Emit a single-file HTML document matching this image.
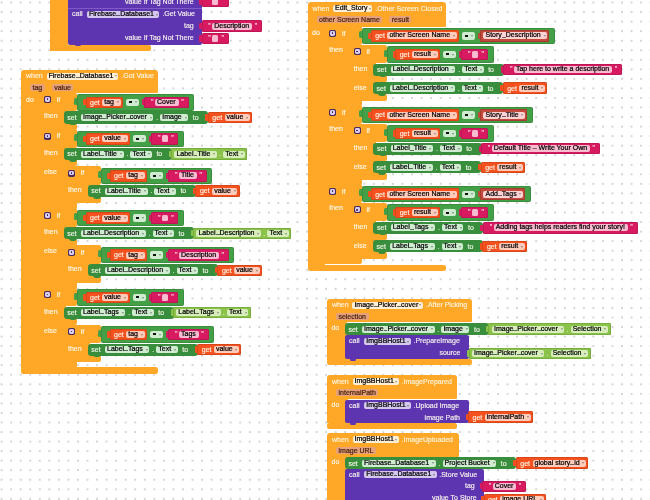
<!DOCTYPE html><html><head><meta charset="utf-8"><style>
*{box-sizing:border-box}
html,body{margin:0;padding:0;width:650px;height:500px;overflow:hidden;background:#fff}
body{position:relative;font-family:"Liberation Sans",sans-serif;font-size:7px}
#wrap{position:absolute;left:0;top:0;width:650px;height:500px;will-change:transform;overflow:hidden}
.dots{position:absolute;left:0;top:0}
.r{position:absolute}
.t{position:absolute;white-space:nowrap;line-height:7px;height:7px;-webkit-text-stroke:0.15px currentColor}
.f{position:absolute;white-space:nowrap;border-radius:2px;padding-left:2px;-webkit-text-stroke:0.22px currentColor}
.f i{position:absolute;right:1.8px;top:50%;margin-top:-0.8px;width:0;height:0;border-left:1.5px solid transparent;border-right:1.5px solid transparent;border-top:2px solid rgba(0,0,0,.4)}
.eq{position:absolute;left:3.2px;top:2.6px;width:2.2px;height:2px;background:#111}
.us{display:inline-block;width:3.9px;height:0.7px;background:currentColor;opacity:.55;vertical-align:0px}
.gear{position:absolute;width:7px;height:7px;border-radius:1.8px;background:#4A2A58}
.gear span{position:absolute;left:1.1px;top:1.1px;width:4.8px;height:4.8px;border-radius:1.4px;background:#D9CCF0}
.gear span::after{content:"";position:absolute;left:1.6px;top:1.4px;width:1.6px;height:1.8px;border-radius:50%;background:#3a2048}
</style></head><body><div id="wrap"><svg class="dots" width="650" height="500"><defs><pattern id="p" x="1.6" y="2.5" width="9.545" height="9.545" patternUnits="userSpaceOnUse"><circle cx="0" cy="0" r="0.95" fill="#c4c4c4"/><circle cx="9.545" cy="0" r="0.95" fill="#c4c4c4"/><circle cx="0" cy="9.545" r="0.95" fill="#c4c4c4"/><circle cx="9.545" cy="9.545" r="0.95" fill="#c4c4c4"/></pattern></defs><rect x="0" y="0" width="650" height="500" fill="url(#p)"/></svg><div class="r" style="left:50.40px;top:-10.00px;width:17.60px;height:60.80px;background:#FFA726;"></div>
<div class="r" style="left:50.40px;top:44.60px;width:100.60px;height:6.20px;background:#FFA726;border-radius:2px;"></div>
<div class="r" style="left:67.80px;top:-5.00px;width:134.00px;height:49.60px;background:#5E35B1;border-radius:2px;"></div>
<div class="r" style="left:67.80px;top:8.00px;width:134.00px;height:0.90px;background:#7E5BC6;"></div>
<div class="r" style="left:75.00px;top:43.00px;width:6.00px;height:3.00px;background:#5E35B1;border-radius:1.5px;"></div>
<div class="t" style="left:125.00px;top:-2.00px;color:rgba(255,252,240,0.93);">value If Tag Not There</div>
<div class="t" style="left:72.00px;top:10.20px;color:rgba(255,252,240,0.93);">call</div>
<div class="f" style="left:87.00px;top:10.50px;width:72.39px;height:7.6px;line-height:6.40px;background:#D5C8EE;color:#000;">Firebase<b class="us"></b>Database1<i></i></div>
<div class="t" style="left:162.39px;top:10.20px;color:rgba(255,252,240,0.93);">.Get Value</div>
<div class="t" style="left:184.00px;top:22.40px;color:rgba(255,252,240,0.93);">tag</div>
<div class="t" style="left:125.00px;top:34.40px;color:rgba(255,252,240,0.93);">value If Tag Not There</div>
<div class="r" style="left:199.00px;top:-1.60px;width:3.50px;height:6.40px;background:#D81B60;border-radius:1px;"></div>
<div class="r" style="left:201.50px;top:-4.15px;width:27.00px;height:11.50px;background:#D81B60;border-radius:1.5px;box-shadow:inset 0 0 0 0.7px rgba(0,0,0,0.16);"></div>
<div class="t" style="left:208.20px;top:-2.80px;color:rgba(255,235,240,0.9);">"</div>
<div class="r" style="left:212.25px;top:-1.70px;width:6.00px;height:6.60px;background:#F8BBD0;border-radius:1.5px;"></div>
<div class="t" style="left:221.50px;top:-2.80px;color:rgba(255,235,240,0.9);">"</div>
<div class="r" style="left:199.00px;top:23.00px;width:3.50px;height:6.40px;background:#D81B60;border-radius:1px;"></div>
<div class="r" style="left:201.50px;top:20.45px;width:60.62px;height:11.50px;background:#D81B60;border-radius:1.5px;box-shadow:inset 0 0 0 0.7px rgba(0,0,0,0.16);"></div>
<div class="t" style="left:208.20px;top:21.80px;color:rgba(255,235,240,0.9);">"</div>
<div class="f" style="left:212.20px;top:22.70px;width:40.02px;height:7px;line-height:5.80px;background:#F8BBD0;color:#000;">Description</div>
<div class="t" style="left:254.72px;top:21.80px;color:rgba(255,235,240,0.9);">"</div>
<div class="r" style="left:199.00px;top:35.40px;width:3.50px;height:6.40px;background:#D81B60;border-radius:1px;"></div>
<div class="r" style="left:201.50px;top:32.85px;width:27.00px;height:11.50px;background:#D81B60;border-radius:1.5px;box-shadow:inset 0 0 0 0.7px rgba(0,0,0,0.16);"></div>
<div class="t" style="left:208.20px;top:34.20px;color:rgba(255,235,240,0.9);">"</div>
<div class="r" style="left:212.25px;top:35.30px;width:6.00px;height:6.60px;background:#F8BBD0;border-radius:1.5px;"></div>
<div class="t" style="left:221.50px;top:34.20px;color:rgba(255,235,240,0.9);">"</div>
<div class="r" style="left:21.00px;top:69.60px;width:136.80px;height:23.90px;background:#FFA726;border-radius:3px 3px 1px 0;"></div>
<div class="t" style="left:26.00px;top:72.20px;color:rgba(255,248,228,0.95);">when</div>
<div class="f" style="left:46.50px;top:72.60px;width:71.99px;height:7px;line-height:5.80px;background:rgba(255,255,255,0.82);color:#000;">Firebase<b class="us"></b>Database1<i></i></div>
<div class="t" style="left:121.29px;top:72.20px;color:rgba(255,248,228,0.95);">.Got Value</div>
<div class="f" style="left:30.00px;top:83.60px;width:14.73px;height:7.2px;background:#E6A07A;color:#4a2410;text-align:center;padding:0;line-height:7.2px">tag</div>
<div class="f" style="left:51.73px;top:83.60px;width:21.74px;height:7.2px;background:#E6A07A;color:#4a2410;text-align:center;padding:0;line-height:7.2px">value</div>
<div class="r" style="left:21.00px;top:93.00px;width:18.50px;height:275.00px;background:#FFA726;"></div>
<div class="r" style="left:21.00px;top:367.00px;width:136.80px;height:6.50px;background:#FFA726;border-radius:2.5px;"></div>
<div class="t" style="left:26.00px;top:95.90px;color:rgba(255,252,240,0.93);">do</div>
<div class="r" style="left:38.50px;top:92.50px;width:38.50px;height:18.50px;background:#FFA726;border-radius:0 2px 2px 0;"></div>
<div class="gear" style="left:44.00px;top:96.00px;"><span></span></div>
<div class="t" style="left:56.80px;top:95.90px;color:rgba(255,252,240,0.93);">if</div>
<div class="r" style="left:38.50px;top:110.00px;width:27.50px;height:13.70px;background:#FFA726;"></div>
<div class="t" style="left:44.00px;top:112.40px;color:rgba(255,252,240,0.93);">then</div>
<div class="r" style="left:38.50px;top:122.70px;width:38.50px;height:7.30px;background:#FFA726;border-radius:0 2px 2px 0;"></div>
<div class="r" style="left:74.00px;top:97.50px;width:4.00px;height:7.00px;background:#43A047;border-radius:1.5px;"></div>
<div class="r" style="left:77.00px;top:94.00px;width:116.99px;height:16.50px;background:#43A047;border-radius:2px;box-shadow:inset 0 0 0 0.7px rgba(0,0,0,0.16);"></div>
<div class="r" style="left:83.00px;top:99.05px;width:3.50px;height:6.40px;background:#F4511E;border-radius:1px;"></div>
<div class="r" style="left:85.50px;top:96.50px;width:37.13px;height:11.50px;background:#F4511E;border-radius:1.5px;box-shadow:inset 0 0 0 0.7px rgba(0,0,0,0.16);"></div>
<div class="t" style="left:90.00px;top:98.65px;color:rgba(255,252,240,0.93);">get</div>
<div class="f" style="left:102.20px;top:98.75px;width:18.33px;height:7px;line-height:5.80px;background:#FFCCBC;color:#000;">tag<i></i></div>
<div class="f" style="left:126.13px;top:98.65px;width:12.69px;height:7.2px;line-height:6.00px;background:#CFEBD0;color:#000;"><span class="eq"></span><i></i></div>
<div class="r" style="left:141.82px;top:99.05px;width:3.50px;height:6.40px;background:#D81B60;border-radius:1px;"></div>
<div class="r" style="left:144.32px;top:96.50px;width:44.27px;height:11.50px;background:#D81B60;border-radius:1.5px;box-shadow:inset 0 0 0 0.7px rgba(0,0,0,0.16);"></div>
<div class="t" style="left:151.02px;top:97.85px;color:rgba(255,235,240,0.9);">"</div>
<div class="f" style="left:155.02px;top:98.75px;width:23.67px;height:7px;line-height:5.80px;background:#F8BBD0;color:#000;">Cover</div>
<div class="t" style="left:181.19px;top:97.85px;color:rgba(255,235,240,0.9);">"</div>
<div class="r" style="left:63.50px;top:111.40px;width:144.87px;height:12.20px;background:#388E3C;border-radius:3px;"></div>
<div class="r" style="left:69.00px;top:122.10px;width:8.00px;height:3.00px;background:#388E3C;border-radius:0 0 3px 3px;"></div>
<div class="t" style="left:67.30px;top:113.90px;color:rgba(255,252,240,0.93);">set</div>
<div class="f" style="left:81.00px;top:114.00px;width:72.41px;height:7px;line-height:5.80px;background:#CFEBD0;color:#000;">Image<b class="us"></b>Picker<b class="us"></b>cover<i></i></div>
<div class="t" style="left:156.21px;top:113.90px;color:rgba(255,252,240,0.93);">.</div>
<div class="f" style="left:160.31px;top:114.00px;width:28.06px;height:7px;line-height:5.80px;background:#CFEBD0;color:#000;">Image<i></i></div>
<div class="t" style="left:192.87px;top:113.90px;color:rgba(255,252,240,0.93);">to</div>
<div class="r" style="left:205.37px;top:114.30px;width:3.50px;height:6.40px;background:#F4511E;border-radius:1px;"></div>
<div class="r" style="left:207.87px;top:111.75px;width:44.14px;height:11.50px;background:#F4511E;border-radius:1.5px;box-shadow:inset 0 0 0 0.7px rgba(0,0,0,0.16);"></div>
<div class="t" style="left:212.37px;top:113.90px;color:rgba(255,252,240,0.93);">get</div>
<div class="f" style="left:224.57px;top:114.00px;width:25.34px;height:7px;line-height:5.80px;background:#FFCCBC;color:#000;">value<i></i></div>
<div class="r" style="left:38.50px;top:129.00px;width:38.50px;height:18.50px;background:#FFA726;border-radius:0 2px 2px 0;"></div>
<div class="gear" style="left:44.00px;top:132.50px;"><span></span></div>
<div class="t" style="left:56.80px;top:132.40px;color:rgba(255,252,240,0.93);">if</div>
<div class="r" style="left:38.50px;top:146.50px;width:27.50px;height:13.70px;background:#FFA726;"></div>
<div class="t" style="left:44.00px;top:148.90px;color:rgba(255,252,240,0.93);">then</div>
<div class="r" style="left:38.50px;top:159.20px;width:38.50px;height:7.30px;background:#FFA726;border-radius:0 2px 2px 0;"></div>
<div class="r" style="left:38.50px;top:165.50px;width:27.50px;height:37.50px;background:#FFA726;"></div>
<div class="t" style="left:44.00px;top:167.90px;color:rgba(255,252,240,0.93);">else</div>
<div class="r" style="left:38.50px;top:202.00px;width:38.50px;height:7.30px;background:#FFA726;border-radius:0 2px 2px 0;"></div>
<div class="r" style="left:74.00px;top:134.00px;width:4.00px;height:7.00px;background:#43A047;border-radius:1.5px;"></div>
<div class="r" style="left:77.00px;top:130.50px;width:106.72px;height:16.50px;background:#43A047;border-radius:2px;box-shadow:inset 0 0 0 0.7px rgba(0,0,0,0.16);"></div>
<div class="r" style="left:83.00px;top:135.55px;width:3.50px;height:6.40px;background:#F4511E;border-radius:1px;"></div>
<div class="r" style="left:85.50px;top:133.00px;width:44.14px;height:11.50px;background:#F4511E;border-radius:1.5px;box-shadow:inset 0 0 0 0.7px rgba(0,0,0,0.16);"></div>
<div class="t" style="left:90.00px;top:135.15px;color:rgba(255,252,240,0.93);">get</div>
<div class="f" style="left:102.20px;top:135.25px;width:25.34px;height:7px;line-height:5.80px;background:#FFCCBC;color:#000;">value<i></i></div>
<div class="f" style="left:133.14px;top:135.15px;width:12.69px;height:7.2px;line-height:6.00px;background:#CFEBD0;color:#000;"><span class="eq"></span><i></i></div>
<div class="r" style="left:148.82px;top:135.55px;width:3.50px;height:6.40px;background:#D81B60;border-radius:1px;"></div>
<div class="r" style="left:151.32px;top:133.00px;width:27.00px;height:11.50px;background:#D81B60;border-radius:1.5px;box-shadow:inset 0 0 0 0.7px rgba(0,0,0,0.16);"></div>
<div class="t" style="left:158.02px;top:134.35px;color:rgba(255,235,240,0.9);">"</div>
<div class="r" style="left:162.07px;top:135.45px;width:6.00px;height:6.60px;background:#F8BBD0;border-radius:1.5px;"></div>
<div class="t" style="left:171.32px;top:134.35px;color:rgba(255,235,240,0.9);">"</div>
<div class="r" style="left:63.50px;top:147.90px;width:108.43px;height:12.20px;background:#388E3C;border-radius:3px;"></div>
<div class="r" style="left:69.00px;top:158.60px;width:8.00px;height:3.00px;background:#388E3C;border-radius:0 0 3px 3px;"></div>
<div class="t" style="left:67.30px;top:150.40px;color:rgba(255,252,240,0.93);">set</div>
<div class="f" style="left:81.00px;top:150.50px;width:42.59px;height:7px;line-height:5.80px;background:#CFEBD0;color:#000;">Label<b class="us"></b>Title<i></i></div>
<div class="t" style="left:126.39px;top:150.40px;color:rgba(255,252,240,0.93);">.</div>
<div class="f" style="left:130.49px;top:150.50px;width:21.44px;height:7px;line-height:5.80px;background:#CFEBD0;color:#000;">Text<i></i></div>
<div class="t" style="left:156.43px;top:150.40px;color:rgba(255,252,240,0.93);">to</div>
<div class="r" style="left:168.93px;top:150.80px;width:3.50px;height:6.40px;background:#8BC34A;border-radius:1px;"></div>
<div class="r" style="left:170.93px;top:148.25px;width:76.43px;height:11.50px;background:#8BC34A;border-radius:1.5px;box-shadow:inset 0 0 0 0.8px #73A83A;"></div>
<div class="f" style="left:174.43px;top:150.50px;width:42.59px;height:7px;line-height:5.80px;background:#D7EEBC;color:#000;">Label<b class="us"></b>Title<i></i></div>
<div class="t" style="left:219.22px;top:150.40px;color:rgba(255,252,240,0.93);">.</div>
<div class="f" style="left:223.32px;top:150.50px;width:21.44px;height:7px;line-height:5.80px;background:#D7EEBC;color:#000;">Text<i></i></div>
<div class="r" style="left:62.50px;top:166.00px;width:38.50px;height:18.50px;background:#FFA726;border-radius:0 2px 2px 0;"></div>
<div class="gear" style="left:68.00px;top:169.50px;"><span></span></div>
<div class="t" style="left:80.80px;top:169.40px;color:rgba(255,252,240,0.93);">if</div>
<div class="r" style="left:62.50px;top:183.50px;width:27.50px;height:13.70px;background:#FFA726;"></div>
<div class="t" style="left:68.00px;top:185.90px;color:rgba(255,252,240,0.93);">then</div>
<div class="r" style="left:62.50px;top:196.20px;width:38.50px;height:7.30px;background:#FFA726;border-radius:0 2px 2px 0;"></div>
<div class="r" style="left:98.00px;top:171.00px;width:4.00px;height:7.00px;background:#43A047;border-radius:1.5px;"></div>
<div class="r" style="left:101.00px;top:167.50px;width:111.29px;height:16.50px;background:#43A047;border-radius:2px;box-shadow:inset 0 0 0 0.7px rgba(0,0,0,0.16);"></div>
<div class="r" style="left:107.00px;top:172.55px;width:3.50px;height:6.40px;background:#F4511E;border-radius:1px;"></div>
<div class="r" style="left:109.50px;top:170.00px;width:37.13px;height:11.50px;background:#F4511E;border-radius:1.5px;box-shadow:inset 0 0 0 0.7px rgba(0,0,0,0.16);"></div>
<div class="t" style="left:114.00px;top:172.15px;color:rgba(255,252,240,0.93);">get</div>
<div class="f" style="left:126.20px;top:172.25px;width:18.33px;height:7px;line-height:5.80px;background:#FFCCBC;color:#000;">tag<i></i></div>
<div class="f" style="left:150.13px;top:172.15px;width:12.69px;height:7.2px;line-height:6.00px;background:#CFEBD0;color:#000;"><span class="eq"></span><i></i></div>
<div class="r" style="left:165.82px;top:172.55px;width:3.50px;height:6.40px;background:#D81B60;border-radius:1px;"></div>
<div class="r" style="left:168.32px;top:170.00px;width:38.57px;height:11.50px;background:#D81B60;border-radius:1.5px;box-shadow:inset 0 0 0 0.7px rgba(0,0,0,0.16);"></div>
<div class="t" style="left:175.02px;top:171.35px;color:rgba(255,235,240,0.9);">"</div>
<div class="f" style="left:179.02px;top:172.25px;width:17.97px;height:7px;line-height:5.80px;background:#F8BBD0;color:#000;">Title</div>
<div class="t" style="left:199.49px;top:171.35px;color:rgba(255,235,240,0.9);">"</div>
<div class="r" style="left:87.50px;top:184.90px;width:108.43px;height:12.20px;background:#388E3C;border-radius:3px;"></div>
<div class="r" style="left:93.00px;top:195.60px;width:8.00px;height:3.00px;background:#388E3C;border-radius:0 0 3px 3px;"></div>
<div class="t" style="left:91.30px;top:187.40px;color:rgba(255,252,240,0.93);">set</div>
<div class="f" style="left:105.00px;top:187.50px;width:42.59px;height:7px;line-height:5.80px;background:#CFEBD0;color:#000;">Label<b class="us"></b>Title<i></i></div>
<div class="t" style="left:150.39px;top:187.40px;color:rgba(255,252,240,0.93);">.</div>
<div class="f" style="left:154.49px;top:187.50px;width:21.44px;height:7px;line-height:5.80px;background:#CFEBD0;color:#000;">Text<i></i></div>
<div class="t" style="left:180.43px;top:187.40px;color:rgba(255,252,240,0.93);">to</div>
<div class="r" style="left:192.93px;top:187.80px;width:3.50px;height:6.40px;background:#F4511E;border-radius:1px;"></div>
<div class="r" style="left:195.43px;top:185.25px;width:44.14px;height:11.50px;background:#F4511E;border-radius:1.5px;box-shadow:inset 0 0 0 0.7px rgba(0,0,0,0.16);"></div>
<div class="t" style="left:199.93px;top:187.40px;color:rgba(255,252,240,0.93);">get</div>
<div class="f" style="left:212.13px;top:187.50px;width:25.34px;height:7px;line-height:5.80px;background:#FFCCBC;color:#000;">value<i></i></div>
<div class="r" style="left:38.50px;top:208.30px;width:38.50px;height:18.50px;background:#FFA726;border-radius:0 2px 2px 0;"></div>
<div class="gear" style="left:44.00px;top:211.80px;"><span></span></div>
<div class="t" style="left:56.80px;top:211.70px;color:rgba(255,252,240,0.93);">if</div>
<div class="r" style="left:38.50px;top:225.80px;width:27.50px;height:13.70px;background:#FFA726;"></div>
<div class="t" style="left:44.00px;top:228.20px;color:rgba(255,252,240,0.93);">then</div>
<div class="r" style="left:38.50px;top:238.50px;width:38.50px;height:7.30px;background:#FFA726;border-radius:0 2px 2px 0;"></div>
<div class="r" style="left:38.50px;top:244.80px;width:27.50px;height:37.50px;background:#FFA726;"></div>
<div class="t" style="left:44.00px;top:247.20px;color:rgba(255,252,240,0.93);">else</div>
<div class="r" style="left:38.50px;top:281.30px;width:38.50px;height:7.30px;background:#FFA726;border-radius:0 2px 2px 0;"></div>
<div class="r" style="left:74.00px;top:213.30px;width:4.00px;height:7.00px;background:#43A047;border-radius:1.5px;"></div>
<div class="r" style="left:77.00px;top:209.80px;width:106.72px;height:16.50px;background:#43A047;border-radius:2px;box-shadow:inset 0 0 0 0.7px rgba(0,0,0,0.16);"></div>
<div class="r" style="left:83.00px;top:214.85px;width:3.50px;height:6.40px;background:#F4511E;border-radius:1px;"></div>
<div class="r" style="left:85.50px;top:212.30px;width:44.14px;height:11.50px;background:#F4511E;border-radius:1.5px;box-shadow:inset 0 0 0 0.7px rgba(0,0,0,0.16);"></div>
<div class="t" style="left:90.00px;top:214.45px;color:rgba(255,252,240,0.93);">get</div>
<div class="f" style="left:102.20px;top:214.55px;width:25.34px;height:7px;line-height:5.80px;background:#FFCCBC;color:#000;">value<i></i></div>
<div class="f" style="left:133.14px;top:214.45px;width:12.69px;height:7.2px;line-height:6.00px;background:#CFEBD0;color:#000;"><span class="eq"></span><i></i></div>
<div class="r" style="left:148.82px;top:214.85px;width:3.50px;height:6.40px;background:#D81B60;border-radius:1px;"></div>
<div class="r" style="left:151.32px;top:212.30px;width:27.00px;height:11.50px;background:#D81B60;border-radius:1.5px;box-shadow:inset 0 0 0 0.7px rgba(0,0,0,0.16);"></div>
<div class="t" style="left:158.02px;top:213.65px;color:rgba(255,235,240,0.9);">"</div>
<div class="r" style="left:162.07px;top:214.75px;width:6.00px;height:6.60px;background:#F8BBD0;border-radius:1.5px;"></div>
<div class="t" style="left:171.32px;top:213.65px;color:rgba(255,235,240,0.9);">"</div>
<div class="r" style="left:63.50px;top:227.20px;width:130.48px;height:12.20px;background:#388E3C;border-radius:3px;"></div>
<div class="r" style="left:69.00px;top:237.90px;width:8.00px;height:3.00px;background:#388E3C;border-radius:0 0 3px 3px;"></div>
<div class="t" style="left:67.30px;top:229.70px;color:rgba(255,252,240,0.93);">set</div>
<div class="f" style="left:81.00px;top:229.80px;width:64.64px;height:7px;line-height:5.80px;background:#CFEBD0;color:#000;">Label<b class="us"></b>Description<i></i></div>
<div class="t" style="left:148.44px;top:229.70px;color:rgba(255,252,240,0.93);">.</div>
<div class="f" style="left:152.54px;top:229.80px;width:21.44px;height:7px;line-height:5.80px;background:#CFEBD0;color:#000;">Text<i></i></div>
<div class="t" style="left:178.48px;top:229.70px;color:rgba(255,252,240,0.93);">to</div>
<div class="r" style="left:190.98px;top:230.10px;width:3.50px;height:6.40px;background:#8BC34A;border-radius:1px;"></div>
<div class="r" style="left:192.98px;top:227.55px;width:98.48px;height:11.50px;background:#8BC34A;border-radius:1.5px;box-shadow:inset 0 0 0 0.8px #73A83A;"></div>
<div class="f" style="left:196.48px;top:229.80px;width:64.64px;height:7px;line-height:5.80px;background:#D7EEBC;color:#000;">Label<b class="us"></b>Description<i></i></div>
<div class="t" style="left:263.32px;top:229.70px;color:rgba(255,252,240,0.93);">.</div>
<div class="f" style="left:267.42px;top:229.80px;width:21.44px;height:7px;line-height:5.80px;background:#D7EEBC;color:#000;">Text<i></i></div>
<div class="r" style="left:62.50px;top:245.30px;width:38.50px;height:18.50px;background:#FFA726;border-radius:0 2px 2px 0;"></div>
<div class="gear" style="left:68.00px;top:248.80px;"><span></span></div>
<div class="t" style="left:80.80px;top:248.70px;color:rgba(255,252,240,0.93);">if</div>
<div class="r" style="left:62.50px;top:262.80px;width:27.50px;height:13.70px;background:#FFA726;"></div>
<div class="t" style="left:68.00px;top:265.20px;color:rgba(255,252,240,0.93);">then</div>
<div class="r" style="left:62.50px;top:275.50px;width:38.50px;height:7.30px;background:#FFA726;border-radius:0 2px 2px 0;"></div>
<div class="r" style="left:98.00px;top:250.30px;width:4.00px;height:7.00px;background:#43A047;border-radius:1.5px;"></div>
<div class="r" style="left:101.00px;top:246.80px;width:133.34px;height:16.50px;background:#43A047;border-radius:2px;box-shadow:inset 0 0 0 0.7px rgba(0,0,0,0.16);"></div>
<div class="r" style="left:107.00px;top:251.85px;width:3.50px;height:6.40px;background:#F4511E;border-radius:1px;"></div>
<div class="r" style="left:109.50px;top:249.30px;width:37.13px;height:11.50px;background:#F4511E;border-radius:1.5px;box-shadow:inset 0 0 0 0.7px rgba(0,0,0,0.16);"></div>
<div class="t" style="left:114.00px;top:251.45px;color:rgba(255,252,240,0.93);">get</div>
<div class="f" style="left:126.20px;top:251.55px;width:18.33px;height:7px;line-height:5.80px;background:#FFCCBC;color:#000;">tag<i></i></div>
<div class="f" style="left:150.13px;top:251.45px;width:12.69px;height:7.2px;line-height:6.00px;background:#CFEBD0;color:#000;"><span class="eq"></span><i></i></div>
<div class="r" style="left:165.82px;top:251.85px;width:3.50px;height:6.40px;background:#D81B60;border-radius:1px;"></div>
<div class="r" style="left:168.32px;top:249.30px;width:60.62px;height:11.50px;background:#D81B60;border-radius:1.5px;box-shadow:inset 0 0 0 0.7px rgba(0,0,0,0.16);"></div>
<div class="t" style="left:175.02px;top:250.65px;color:rgba(255,235,240,0.9);">"</div>
<div class="f" style="left:179.02px;top:251.55px;width:40.02px;height:7px;line-height:5.80px;background:#F8BBD0;color:#000;">Description</div>
<div class="t" style="left:221.54px;top:250.65px;color:rgba(255,235,240,0.9);">"</div>
<div class="r" style="left:87.50px;top:264.20px;width:130.48px;height:12.20px;background:#388E3C;border-radius:3px;"></div>
<div class="r" style="left:93.00px;top:274.90px;width:8.00px;height:3.00px;background:#388E3C;border-radius:0 0 3px 3px;"></div>
<div class="t" style="left:91.30px;top:266.70px;color:rgba(255,252,240,0.93);">set</div>
<div class="f" style="left:105.00px;top:266.80px;width:64.64px;height:7px;line-height:5.80px;background:#CFEBD0;color:#000;">Label<b class="us"></b>Description<i></i></div>
<div class="t" style="left:172.44px;top:266.70px;color:rgba(255,252,240,0.93);">.</div>
<div class="f" style="left:176.54px;top:266.80px;width:21.44px;height:7px;line-height:5.80px;background:#CFEBD0;color:#000;">Text<i></i></div>
<div class="t" style="left:202.48px;top:266.70px;color:rgba(255,252,240,0.93);">to</div>
<div class="r" style="left:214.98px;top:267.10px;width:3.50px;height:6.40px;background:#F4511E;border-radius:1px;"></div>
<div class="r" style="left:217.48px;top:264.55px;width:44.14px;height:11.50px;background:#F4511E;border-radius:1.5px;box-shadow:inset 0 0 0 0.7px rgba(0,0,0,0.16);"></div>
<div class="t" style="left:221.98px;top:266.70px;color:rgba(255,252,240,0.93);">get</div>
<div class="f" style="left:234.18px;top:266.80px;width:25.34px;height:7px;line-height:5.80px;background:#FFCCBC;color:#000;">value<i></i></div>
<div class="r" style="left:38.50px;top:287.60px;width:38.50px;height:18.50px;background:#FFA726;border-radius:0 2px 2px 0;"></div>
<div class="gear" style="left:44.00px;top:291.10px;"><span></span></div>
<div class="t" style="left:56.80px;top:291.00px;color:rgba(255,252,240,0.93);">if</div>
<div class="r" style="left:38.50px;top:305.10px;width:27.50px;height:13.70px;background:#FFA726;"></div>
<div class="t" style="left:44.00px;top:307.50px;color:rgba(255,252,240,0.93);">then</div>
<div class="r" style="left:38.50px;top:317.80px;width:38.50px;height:7.30px;background:#FFA726;border-radius:0 2px 2px 0;"></div>
<div class="r" style="left:38.50px;top:324.10px;width:27.50px;height:37.50px;background:#FFA726;"></div>
<div class="t" style="left:44.00px;top:326.50px;color:rgba(255,252,240,0.93);">else</div>
<div class="r" style="left:38.50px;top:360.60px;width:38.50px;height:7.30px;background:#FFA726;border-radius:0 2px 2px 0;"></div>
<div class="r" style="left:74.00px;top:292.60px;width:4.00px;height:7.00px;background:#43A047;border-radius:1.5px;"></div>
<div class="r" style="left:77.00px;top:289.10px;width:106.72px;height:16.50px;background:#43A047;border-radius:2px;box-shadow:inset 0 0 0 0.7px rgba(0,0,0,0.16);"></div>
<div class="r" style="left:83.00px;top:294.15px;width:3.50px;height:6.40px;background:#F4511E;border-radius:1px;"></div>
<div class="r" style="left:85.50px;top:291.60px;width:44.14px;height:11.50px;background:#F4511E;border-radius:1.5px;box-shadow:inset 0 0 0 0.7px rgba(0,0,0,0.16);"></div>
<div class="t" style="left:90.00px;top:293.75px;color:rgba(255,252,240,0.93);">get</div>
<div class="f" style="left:102.20px;top:293.85px;width:25.34px;height:7px;line-height:5.80px;background:#FFCCBC;color:#000;">value<i></i></div>
<div class="f" style="left:133.14px;top:293.75px;width:12.69px;height:7.2px;line-height:6.00px;background:#CFEBD0;color:#000;"><span class="eq"></span><i></i></div>
<div class="r" style="left:148.82px;top:294.15px;width:3.50px;height:6.40px;background:#D81B60;border-radius:1px;"></div>
<div class="r" style="left:151.32px;top:291.60px;width:27.00px;height:11.50px;background:#D81B60;border-radius:1.5px;box-shadow:inset 0 0 0 0.7px rgba(0,0,0,0.16);"></div>
<div class="t" style="left:158.02px;top:292.95px;color:rgba(255,235,240,0.9);">"</div>
<div class="r" style="left:162.07px;top:294.05px;width:6.00px;height:6.60px;background:#F8BBD0;border-radius:1.5px;"></div>
<div class="t" style="left:171.32px;top:292.95px;color:rgba(255,235,240,0.9);">"</div>
<div class="r" style="left:63.50px;top:306.50px;width:110.25px;height:12.20px;background:#388E3C;border-radius:3px;"></div>
<div class="r" style="left:69.00px;top:317.20px;width:8.00px;height:3.00px;background:#388E3C;border-radius:0 0 3px 3px;"></div>
<div class="t" style="left:67.30px;top:309.00px;color:rgba(255,252,240,0.93);">set</div>
<div class="f" style="left:81.00px;top:309.10px;width:44.41px;height:7px;line-height:5.80px;background:#CFEBD0;color:#000;">Label<b class="us"></b>Tags<i></i></div>
<div class="t" style="left:128.21px;top:309.00px;color:rgba(255,252,240,0.93);">.</div>
<div class="f" style="left:132.31px;top:309.10px;width:21.44px;height:7px;line-height:5.80px;background:#CFEBD0;color:#000;">Text<i></i></div>
<div class="t" style="left:158.25px;top:309.00px;color:rgba(255,252,240,0.93);">to</div>
<div class="r" style="left:170.75px;top:309.40px;width:3.50px;height:6.40px;background:#8BC34A;border-radius:1px;"></div>
<div class="r" style="left:172.75px;top:306.85px;width:78.25px;height:11.50px;background:#8BC34A;border-radius:1.5px;box-shadow:inset 0 0 0 0.8px #73A83A;"></div>
<div class="f" style="left:176.25px;top:309.10px;width:44.41px;height:7px;line-height:5.80px;background:#D7EEBC;color:#000;">Label<b class="us"></b>Tags<i></i></div>
<div class="t" style="left:222.86px;top:309.00px;color:rgba(255,252,240,0.93);">.</div>
<div class="f" style="left:226.96px;top:309.10px;width:21.44px;height:7px;line-height:5.80px;background:#D7EEBC;color:#000;">Text<i></i></div>
<div class="r" style="left:62.50px;top:324.60px;width:38.50px;height:18.50px;background:#FFA726;border-radius:0 2px 2px 0;"></div>
<div class="gear" style="left:68.00px;top:328.10px;"><span></span></div>
<div class="t" style="left:80.80px;top:328.00px;color:rgba(255,252,240,0.93);">if</div>
<div class="r" style="left:62.50px;top:342.10px;width:27.50px;height:13.70px;background:#FFA726;"></div>
<div class="t" style="left:68.00px;top:344.50px;color:rgba(255,252,240,0.93);">then</div>
<div class="r" style="left:62.50px;top:354.80px;width:38.50px;height:7.30px;background:#FFA726;border-radius:0 2px 2px 0;"></div>
<div class="r" style="left:98.00px;top:329.60px;width:4.00px;height:7.00px;background:#43A047;border-radius:1.5px;"></div>
<div class="r" style="left:101.00px;top:326.10px;width:113.11px;height:16.50px;background:#43A047;border-radius:2px;box-shadow:inset 0 0 0 0.7px rgba(0,0,0,0.16);"></div>
<div class="r" style="left:107.00px;top:331.15px;width:3.50px;height:6.40px;background:#F4511E;border-radius:1px;"></div>
<div class="r" style="left:109.50px;top:328.60px;width:37.13px;height:11.50px;background:#F4511E;border-radius:1.5px;box-shadow:inset 0 0 0 0.7px rgba(0,0,0,0.16);"></div>
<div class="t" style="left:114.00px;top:330.75px;color:rgba(255,252,240,0.93);">get</div>
<div class="f" style="left:126.20px;top:330.85px;width:18.33px;height:7px;line-height:5.80px;background:#FFCCBC;color:#000;">tag<i></i></div>
<div class="f" style="left:150.13px;top:330.75px;width:12.69px;height:7.2px;line-height:6.00px;background:#CFEBD0;color:#000;"><span class="eq"></span><i></i></div>
<div class="r" style="left:165.82px;top:331.15px;width:3.50px;height:6.40px;background:#D81B60;border-radius:1px;"></div>
<div class="r" style="left:168.32px;top:328.60px;width:40.39px;height:11.50px;background:#D81B60;border-radius:1.5px;box-shadow:inset 0 0 0 0.7px rgba(0,0,0,0.16);"></div>
<div class="t" style="left:175.02px;top:329.95px;color:rgba(255,235,240,0.9);">"</div>
<div class="f" style="left:179.02px;top:330.85px;width:19.79px;height:7px;line-height:5.80px;background:#F8BBD0;color:#000;">Tags</div>
<div class="t" style="left:201.31px;top:329.95px;color:rgba(255,235,240,0.9);">"</div>
<div class="r" style="left:87.50px;top:343.50px;width:110.25px;height:12.20px;background:#388E3C;border-radius:3px;"></div>
<div class="r" style="left:93.00px;top:354.20px;width:8.00px;height:3.00px;background:#388E3C;border-radius:0 0 3px 3px;"></div>
<div class="t" style="left:91.30px;top:346.00px;color:rgba(255,252,240,0.93);">set</div>
<div class="f" style="left:105.00px;top:346.10px;width:44.41px;height:7px;line-height:5.80px;background:#CFEBD0;color:#000;">Label<b class="us"></b>Tags<i></i></div>
<div class="t" style="left:152.21px;top:346.00px;color:rgba(255,252,240,0.93);">.</div>
<div class="f" style="left:156.31px;top:346.10px;width:21.44px;height:7px;line-height:5.80px;background:#CFEBD0;color:#000;">Text<i></i></div>
<div class="t" style="left:182.25px;top:346.00px;color:rgba(255,252,240,0.93);">to</div>
<div class="r" style="left:194.75px;top:346.40px;width:3.50px;height:6.40px;background:#F4511E;border-radius:1px;"></div>
<div class="r" style="left:197.25px;top:343.85px;width:44.14px;height:11.50px;background:#F4511E;border-radius:1.5px;box-shadow:inset 0 0 0 0.7px rgba(0,0,0,0.16);"></div>
<div class="t" style="left:201.75px;top:346.00px;color:rgba(255,252,240,0.93);">get</div>
<div class="f" style="left:213.95px;top:346.10px;width:25.34px;height:7px;line-height:5.80px;background:#FFCCBC;color:#000;">value<i></i></div>
<div class="r" style="left:307.60px;top:2.30px;width:138.20px;height:24.40px;background:#FFA726;border-radius:3px 3px 1px 0;"></div>
<div class="t" style="left:312.60px;top:4.90px;color:rgba(255,248,228,0.95);">when</div>
<div class="f" style="left:333.10px;top:5.30px;width:39.30px;height:7px;line-height:5.80px;background:rgba(255,255,255,0.82);color:#000;">Edit<b class="us"></b>Story<i></i></div>
<div class="t" style="left:375.20px;top:4.90px;color:rgba(255,248,228,0.95);">.Other Screen Closed</div>
<div class="f" style="left:316.60px;top:16.30px;width:65.70px;height:7.2px;background:#E6A07A;color:#4a2410;text-align:center;padding:0;line-height:7.2px">other Screen Name</div>
<div class="f" style="left:389.30px;top:16.30px;width:22.12px;height:7.2px;background:#E6A07A;color:#4a2410;text-align:center;padding:0;line-height:7.2px">result</div>
<div class="r" style="left:307.60px;top:26.50px;width:17.10px;height:240.00px;background:#FFA726;"></div>
<div class="r" style="left:307.60px;top:264.80px;width:138.20px;height:6.00px;background:#FFA726;border-radius:2.5px;"></div>
<div class="t" style="left:312.10px;top:28.70px;color:rgba(255,252,240,0.93);">do</div>
<div class="r" style="left:323.70px;top:26.20px;width:38.50px;height:18.50px;background:#FFA726;border-radius:0 2px 2px 0;"></div>
<div class="gear" style="left:329.20px;top:29.70px;"><span></span></div>
<div class="t" style="left:342.00px;top:29.60px;color:rgba(255,252,240,0.93);">if</div>
<div class="r" style="left:323.70px;top:43.70px;width:27.50px;height:56.30px;background:#FFA726;"></div>
<div class="t" style="left:329.20px;top:46.10px;color:rgba(255,252,240,0.93);">then</div>
<div class="r" style="left:323.70px;top:99.00px;width:38.50px;height:7.30px;background:#FFA726;border-radius:0 2px 2px 0;"></div>
<div class="r" style="left:359.20px;top:31.20px;width:4.00px;height:7.00px;background:#43A047;border-radius:1.5px;"></div>
<div class="r" style="left:362.20px;top:27.70px;width:192.44px;height:16.50px;background:#43A047;border-radius:2px;box-shadow:inset 0 0 0 0.7px rgba(0,0,0,0.16);"></div>
<div class="r" style="left:368.20px;top:32.75px;width:3.50px;height:6.40px;background:#F4511E;border-radius:1px;"></div>
<div class="r" style="left:370.70px;top:30.20px;width:88.10px;height:11.50px;background:#F4511E;border-radius:1.5px;box-shadow:inset 0 0 0 0.7px rgba(0,0,0,0.16);"></div>
<div class="t" style="left:375.20px;top:32.35px;color:rgba(255,252,240,0.93);">get</div>
<div class="f" style="left:387.40px;top:32.45px;width:69.30px;height:7px;line-height:5.80px;background:#FFCCBC;color:#000;">other Screen Name<i></i></div>
<div class="f" style="left:462.30px;top:32.35px;width:12.69px;height:7.2px;line-height:6.00px;background:#CFEBD0;color:#000;"><span class="eq"></span><i></i></div>
<div class="r" style="left:477.99px;top:32.75px;width:3.50px;height:6.40px;background:#C24A3C;border-radius:1px;"></div>
<div class="r" style="left:480.49px;top:29.75px;width:68.75px;height:12.40px;background:#C24A3C;border-radius:1.5px;box-shadow:inset 0 0 0 1px #A53A2E;"></div>
<div class="f" style="left:483.49px;top:32.45px;width:63.85px;height:7px;line-height:5.80px;background:#FDD3D3;color:#000;">Story<b class="us"></b>Description<i></i></div>
<div class="r" style="left:348.20px;top:44.60px;width:38.50px;height:18.50px;background:#FFA726;border-radius:0 2px 2px 0;"></div>
<div class="gear" style="left:353.70px;top:48.10px;"><span></span></div>
<div class="t" style="left:366.50px;top:48.00px;color:rgba(255,252,240,0.93);">if</div>
<div class="r" style="left:348.20px;top:62.10px;width:27.50px;height:13.70px;background:#FFA726;"></div>
<div class="t" style="left:353.70px;top:64.50px;color:rgba(255,252,240,0.93);">then</div>
<div class="r" style="left:348.20px;top:74.80px;width:38.50px;height:7.30px;background:#FFA726;border-radius:0 2px 2px 0;"></div>
<div class="r" style="left:348.20px;top:81.10px;width:27.50px;height:13.50px;background:#FFA726;"></div>
<div class="t" style="left:353.70px;top:83.50px;color:rgba(255,252,240,0.93);">else</div>
<div class="r" style="left:348.20px;top:93.60px;width:38.50px;height:7.30px;background:#FFA726;border-radius:0 2px 2px 0;"></div>
<div class="r" style="left:383.70px;top:49.60px;width:4.00px;height:7.00px;background:#43A047;border-radius:1.5px;"></div>
<div class="r" style="left:386.70px;top:46.10px;width:107.11px;height:16.50px;background:#43A047;border-radius:2px;box-shadow:inset 0 0 0 0.7px rgba(0,0,0,0.16);"></div>
<div class="r" style="left:392.70px;top:51.15px;width:3.50px;height:6.40px;background:#F4511E;border-radius:1px;"></div>
<div class="r" style="left:395.20px;top:48.60px;width:44.52px;height:11.50px;background:#F4511E;border-radius:1.5px;box-shadow:inset 0 0 0 0.7px rgba(0,0,0,0.16);"></div>
<div class="t" style="left:399.70px;top:50.75px;color:rgba(255,252,240,0.93);">get</div>
<div class="f" style="left:411.90px;top:50.85px;width:25.72px;height:7px;line-height:5.80px;background:#FFCCBC;color:#000;">result<i></i></div>
<div class="f" style="left:443.22px;top:50.75px;width:12.69px;height:7.2px;line-height:6.00px;background:#CFEBD0;color:#000;"><span class="eq"></span><i></i></div>
<div class="r" style="left:458.91px;top:51.15px;width:3.50px;height:6.40px;background:#D81B60;border-radius:1px;"></div>
<div class="r" style="left:461.41px;top:48.60px;width:27.00px;height:11.50px;background:#D81B60;border-radius:1.5px;box-shadow:inset 0 0 0 0.7px rgba(0,0,0,0.16);"></div>
<div class="t" style="left:468.11px;top:49.95px;color:rgba(255,235,240,0.9);">"</div>
<div class="r" style="left:472.16px;top:51.05px;width:6.00px;height:6.60px;background:#F8BBD0;border-radius:1.5px;"></div>
<div class="t" style="left:481.41px;top:49.95px;color:rgba(255,235,240,0.9);">"</div>
<div class="r" style="left:373.20px;top:63.50px;width:130.48px;height:12.20px;background:#388E3C;border-radius:3px;"></div>
<div class="r" style="left:378.70px;top:74.20px;width:8.00px;height:3.00px;background:#388E3C;border-radius:0 0 3px 3px;"></div>
<div class="t" style="left:377.00px;top:66.00px;color:rgba(255,252,240,0.93);">set</div>
<div class="f" style="left:390.70px;top:66.10px;width:64.64px;height:7px;line-height:5.80px;background:#CFEBD0;color:#000;">Label<b class="us"></b>Description<i></i></div>
<div class="t" style="left:458.14px;top:66.00px;color:rgba(255,252,240,0.93);">.</div>
<div class="f" style="left:462.24px;top:66.10px;width:21.44px;height:7px;line-height:5.80px;background:#CFEBD0;color:#000;">Text<i></i></div>
<div class="t" style="left:488.18px;top:66.00px;color:rgba(255,252,240,0.93);">to</div>
<div class="r" style="left:500.68px;top:66.40px;width:3.50px;height:6.40px;background:#D81B60;border-radius:1px;"></div>
<div class="r" style="left:503.18px;top:63.85px;width:118.99px;height:11.50px;background:#D81B60;border-radius:1.5px;box-shadow:inset 0 0 0 0.7px rgba(0,0,0,0.16);"></div>
<div class="t" style="left:509.88px;top:65.20px;color:rgba(255,235,240,0.9);">"</div>
<div class="f" style="left:513.88px;top:66.10px;width:98.39px;height:7px;line-height:5.80px;background:#F8BBD0;color:#000;">Tap here to write a description</div>
<div class="t" style="left:614.77px;top:65.20px;color:rgba(255,235,240,0.9);">"</div>
<div class="r" style="left:372.70px;top:82.10px;width:130.48px;height:12.20px;background:#388E3C;border-radius:3px;"></div>
<div class="r" style="left:378.20px;top:92.80px;width:8.00px;height:3.00px;background:#388E3C;border-radius:0 0 3px 3px;"></div>
<div class="t" style="left:376.50px;top:84.60px;color:rgba(255,252,240,0.93);">set</div>
<div class="f" style="left:390.20px;top:84.70px;width:64.64px;height:7px;line-height:5.80px;background:#CFEBD0;color:#000;">Label<b class="us"></b>Description<i></i></div>
<div class="t" style="left:457.64px;top:84.60px;color:rgba(255,252,240,0.93);">.</div>
<div class="f" style="left:461.74px;top:84.70px;width:21.44px;height:7px;line-height:5.80px;background:#CFEBD0;color:#000;">Text<i></i></div>
<div class="t" style="left:487.68px;top:84.60px;color:rgba(255,252,240,0.93);">to</div>
<div class="r" style="left:500.18px;top:85.00px;width:3.50px;height:6.40px;background:#F4511E;border-radius:1px;"></div>
<div class="r" style="left:502.68px;top:82.45px;width:44.52px;height:11.50px;background:#F4511E;border-radius:1.5px;box-shadow:inset 0 0 0 0.7px rgba(0,0,0,0.16);"></div>
<div class="t" style="left:507.18px;top:84.60px;color:rgba(255,252,240,0.93);">get</div>
<div class="f" style="left:519.38px;top:84.70px;width:25.72px;height:7px;line-height:5.80px;background:#FFCCBC;color:#000;">result<i></i></div>
<div class="r" style="left:323.70px;top:105.30px;width:38.50px;height:18.50px;background:#FFA726;border-radius:0 2px 2px 0;"></div>
<div class="gear" style="left:329.20px;top:108.80px;"><span></span></div>
<div class="t" style="left:342.00px;top:108.70px;color:rgba(255,252,240,0.93);">if</div>
<div class="r" style="left:323.70px;top:122.80px;width:27.50px;height:56.30px;background:#FFA726;"></div>
<div class="t" style="left:329.20px;top:125.20px;color:rgba(255,252,240,0.93);">then</div>
<div class="r" style="left:323.70px;top:178.10px;width:38.50px;height:7.30px;background:#FFA726;border-radius:0 2px 2px 0;"></div>
<div class="r" style="left:359.20px;top:110.30px;width:4.00px;height:7.00px;background:#43A047;border-radius:1.5px;"></div>
<div class="r" style="left:362.20px;top:106.80px;width:170.39px;height:16.50px;background:#43A047;border-radius:2px;box-shadow:inset 0 0 0 0.7px rgba(0,0,0,0.16);"></div>
<div class="r" style="left:368.20px;top:111.85px;width:3.50px;height:6.40px;background:#F4511E;border-radius:1px;"></div>
<div class="r" style="left:370.70px;top:109.30px;width:88.10px;height:11.50px;background:#F4511E;border-radius:1.5px;box-shadow:inset 0 0 0 0.7px rgba(0,0,0,0.16);"></div>
<div class="t" style="left:375.20px;top:111.45px;color:rgba(255,252,240,0.93);">get</div>
<div class="f" style="left:387.40px;top:111.55px;width:69.30px;height:7px;line-height:5.80px;background:#FFCCBC;color:#000;">other Screen Name<i></i></div>
<div class="f" style="left:462.30px;top:111.45px;width:12.69px;height:7.2px;line-height:6.00px;background:#CFEBD0;color:#000;"><span class="eq"></span><i></i></div>
<div class="r" style="left:477.99px;top:111.85px;width:3.50px;height:6.40px;background:#C24A3C;border-radius:1px;"></div>
<div class="r" style="left:480.49px;top:108.85px;width:46.70px;height:12.40px;background:#C24A3C;border-radius:1.5px;box-shadow:inset 0 0 0 1px #A53A2E;"></div>
<div class="f" style="left:483.49px;top:111.55px;width:41.80px;height:7px;line-height:5.80px;background:#FDD3D3;color:#000;">Story<b class="us"></b>Title<i></i></div>
<div class="r" style="left:348.20px;top:123.70px;width:38.50px;height:18.50px;background:#FFA726;border-radius:0 2px 2px 0;"></div>
<div class="gear" style="left:353.70px;top:127.20px;"><span></span></div>
<div class="t" style="left:366.50px;top:127.10px;color:rgba(255,252,240,0.93);">if</div>
<div class="r" style="left:348.20px;top:141.20px;width:27.50px;height:13.70px;background:#FFA726;"></div>
<div class="t" style="left:353.70px;top:143.60px;color:rgba(255,252,240,0.93);">then</div>
<div class="r" style="left:348.20px;top:153.90px;width:38.50px;height:7.30px;background:#FFA726;border-radius:0 2px 2px 0;"></div>
<div class="r" style="left:348.20px;top:160.20px;width:27.50px;height:13.50px;background:#FFA726;"></div>
<div class="t" style="left:353.70px;top:162.60px;color:rgba(255,252,240,0.93);">else</div>
<div class="r" style="left:348.20px;top:172.70px;width:38.50px;height:7.30px;background:#FFA726;border-radius:0 2px 2px 0;"></div>
<div class="r" style="left:383.70px;top:128.70px;width:4.00px;height:7.00px;background:#43A047;border-radius:1.5px;"></div>
<div class="r" style="left:386.70px;top:125.20px;width:107.11px;height:16.50px;background:#43A047;border-radius:2px;box-shadow:inset 0 0 0 0.7px rgba(0,0,0,0.16);"></div>
<div class="r" style="left:392.70px;top:130.25px;width:3.50px;height:6.40px;background:#F4511E;border-radius:1px;"></div>
<div class="r" style="left:395.20px;top:127.70px;width:44.52px;height:11.50px;background:#F4511E;border-radius:1.5px;box-shadow:inset 0 0 0 0.7px rgba(0,0,0,0.16);"></div>
<div class="t" style="left:399.70px;top:129.85px;color:rgba(255,252,240,0.93);">get</div>
<div class="f" style="left:411.90px;top:129.95px;width:25.72px;height:7px;line-height:5.80px;background:#FFCCBC;color:#000;">result<i></i></div>
<div class="f" style="left:443.22px;top:129.85px;width:12.69px;height:7.2px;line-height:6.00px;background:#CFEBD0;color:#000;"><span class="eq"></span><i></i></div>
<div class="r" style="left:458.91px;top:130.25px;width:3.50px;height:6.40px;background:#D81B60;border-radius:1px;"></div>
<div class="r" style="left:461.41px;top:127.70px;width:27.00px;height:11.50px;background:#D81B60;border-radius:1.5px;box-shadow:inset 0 0 0 0.7px rgba(0,0,0,0.16);"></div>
<div class="t" style="left:468.11px;top:129.05px;color:rgba(255,235,240,0.9);">"</div>
<div class="r" style="left:472.16px;top:130.15px;width:6.00px;height:6.60px;background:#F8BBD0;border-radius:1.5px;"></div>
<div class="t" style="left:481.41px;top:129.05px;color:rgba(255,235,240,0.9);">"</div>
<div class="r" style="left:373.20px;top:142.60px;width:108.43px;height:12.20px;background:#388E3C;border-radius:3px;"></div>
<div class="r" style="left:378.70px;top:153.30px;width:8.00px;height:3.00px;background:#388E3C;border-radius:0 0 3px 3px;"></div>
<div class="t" style="left:377.00px;top:145.10px;color:rgba(255,252,240,0.93);">set</div>
<div class="f" style="left:390.70px;top:145.20px;width:42.59px;height:7px;line-height:5.80px;background:#CFEBD0;color:#000;">Label<b class="us"></b>Title<i></i></div>
<div class="t" style="left:436.09px;top:145.10px;color:rgba(255,252,240,0.93);">.</div>
<div class="f" style="left:440.19px;top:145.20px;width:21.44px;height:7px;line-height:5.80px;background:#CFEBD0;color:#000;">Text<i></i></div>
<div class="t" style="left:466.13px;top:145.10px;color:rgba(255,252,240,0.93);">to</div>
<div class="r" style="left:478.63px;top:145.50px;width:3.50px;height:6.40px;background:#D81B60;border-radius:1px;"></div>
<div class="r" style="left:481.13px;top:142.95px;width:118.86px;height:11.50px;background:#D81B60;border-radius:1.5px;box-shadow:inset 0 0 0 0.7px rgba(0,0,0,0.16);"></div>
<div class="t" style="left:487.83px;top:144.30px;color:rgba(255,235,240,0.9);">"</div>
<div class="f" style="left:491.83px;top:145.20px;width:98.26px;height:7px;line-height:5.80px;background:#F8BBD0;color:#000;">Default Title – Write Your Own</div>
<div class="t" style="left:592.59px;top:144.30px;color:rgba(255,235,240,0.9);">"</div>
<div class="r" style="left:372.70px;top:161.20px;width:108.43px;height:12.20px;background:#388E3C;border-radius:3px;"></div>
<div class="r" style="left:378.20px;top:171.90px;width:8.00px;height:3.00px;background:#388E3C;border-radius:0 0 3px 3px;"></div>
<div class="t" style="left:376.50px;top:163.70px;color:rgba(255,252,240,0.93);">set</div>
<div class="f" style="left:390.20px;top:163.80px;width:42.59px;height:7px;line-height:5.80px;background:#CFEBD0;color:#000;">Label<b class="us"></b>Title<i></i></div>
<div class="t" style="left:435.59px;top:163.70px;color:rgba(255,252,240,0.93);">.</div>
<div class="f" style="left:439.69px;top:163.80px;width:21.44px;height:7px;line-height:5.80px;background:#CFEBD0;color:#000;">Text<i></i></div>
<div class="t" style="left:465.63px;top:163.70px;color:rgba(255,252,240,0.93);">to</div>
<div class="r" style="left:478.13px;top:164.10px;width:3.50px;height:6.40px;background:#F4511E;border-radius:1px;"></div>
<div class="r" style="left:480.63px;top:161.55px;width:44.52px;height:11.50px;background:#F4511E;border-radius:1.5px;box-shadow:inset 0 0 0 0.7px rgba(0,0,0,0.16);"></div>
<div class="t" style="left:485.13px;top:163.70px;color:rgba(255,252,240,0.93);">get</div>
<div class="f" style="left:497.33px;top:163.80px;width:25.72px;height:7px;line-height:5.80px;background:#FFCCBC;color:#000;">result<i></i></div>
<div class="r" style="left:323.70px;top:184.40px;width:38.50px;height:18.50px;background:#FFA726;border-radius:0 2px 2px 0;"></div>
<div class="gear" style="left:329.20px;top:187.90px;"><span></span></div>
<div class="t" style="left:342.00px;top:187.80px;color:rgba(255,252,240,0.93);">if</div>
<div class="r" style="left:323.70px;top:201.90px;width:27.50px;height:56.30px;background:#FFA726;"></div>
<div class="t" style="left:329.20px;top:204.30px;color:rgba(255,252,240,0.93);">then</div>
<div class="r" style="left:323.70px;top:257.20px;width:38.50px;height:7.30px;background:#FFA726;border-radius:0 2px 2px 0;"></div>
<div class="r" style="left:359.20px;top:189.40px;width:4.00px;height:7.00px;background:#43A047;border-radius:1.5px;"></div>
<div class="r" style="left:362.20px;top:185.90px;width:168.33px;height:16.50px;background:#43A047;border-radius:2px;box-shadow:inset 0 0 0 0.7px rgba(0,0,0,0.16);"></div>
<div class="r" style="left:368.20px;top:190.95px;width:3.50px;height:6.40px;background:#F4511E;border-radius:1px;"></div>
<div class="r" style="left:370.70px;top:188.40px;width:88.10px;height:11.50px;background:#F4511E;border-radius:1.5px;box-shadow:inset 0 0 0 0.7px rgba(0,0,0,0.16);"></div>
<div class="t" style="left:375.20px;top:190.55px;color:rgba(255,252,240,0.93);">get</div>
<div class="f" style="left:387.40px;top:190.65px;width:69.30px;height:7px;line-height:5.80px;background:#FFCCBC;color:#000;">other Screen Name<i></i></div>
<div class="f" style="left:462.30px;top:190.55px;width:12.69px;height:7.2px;line-height:6.00px;background:#CFEBD0;color:#000;"><span class="eq"></span><i></i></div>
<div class="r" style="left:477.99px;top:190.95px;width:3.50px;height:6.40px;background:#C24A3C;border-radius:1px;"></div>
<div class="r" style="left:480.49px;top:187.95px;width:44.64px;height:12.40px;background:#C24A3C;border-radius:1.5px;box-shadow:inset 0 0 0 1px #A53A2E;"></div>
<div class="f" style="left:483.49px;top:190.65px;width:39.74px;height:7px;line-height:5.80px;background:#FDD3D3;color:#000;">Add<b class="us"></b>Tags<i></i></div>
<div class="r" style="left:348.20px;top:202.80px;width:38.50px;height:18.50px;background:#FFA726;border-radius:0 2px 2px 0;"></div>
<div class="gear" style="left:353.70px;top:206.30px;"><span></span></div>
<div class="t" style="left:366.50px;top:206.20px;color:rgba(255,252,240,0.93);">if</div>
<div class="r" style="left:348.20px;top:220.30px;width:27.50px;height:13.70px;background:#FFA726;"></div>
<div class="t" style="left:353.70px;top:222.70px;color:rgba(255,252,240,0.93);">then</div>
<div class="r" style="left:348.20px;top:233.00px;width:38.50px;height:7.30px;background:#FFA726;border-radius:0 2px 2px 0;"></div>
<div class="r" style="left:348.20px;top:239.30px;width:27.50px;height:13.50px;background:#FFA726;"></div>
<div class="t" style="left:353.70px;top:241.70px;color:rgba(255,252,240,0.93);">else</div>
<div class="r" style="left:348.20px;top:251.80px;width:38.50px;height:7.30px;background:#FFA726;border-radius:0 2px 2px 0;"></div>
<div class="r" style="left:383.70px;top:207.80px;width:4.00px;height:7.00px;background:#43A047;border-radius:1.5px;"></div>
<div class="r" style="left:386.70px;top:204.30px;width:107.11px;height:16.50px;background:#43A047;border-radius:2px;box-shadow:inset 0 0 0 0.7px rgba(0,0,0,0.16);"></div>
<div class="r" style="left:392.70px;top:209.35px;width:3.50px;height:6.40px;background:#F4511E;border-radius:1px;"></div>
<div class="r" style="left:395.20px;top:206.80px;width:44.52px;height:11.50px;background:#F4511E;border-radius:1.5px;box-shadow:inset 0 0 0 0.7px rgba(0,0,0,0.16);"></div>
<div class="t" style="left:399.70px;top:208.95px;color:rgba(255,252,240,0.93);">get</div>
<div class="f" style="left:411.90px;top:209.05px;width:25.72px;height:7px;line-height:5.80px;background:#FFCCBC;color:#000;">result<i></i></div>
<div class="f" style="left:443.22px;top:208.95px;width:12.69px;height:7.2px;line-height:6.00px;background:#CFEBD0;color:#000;"><span class="eq"></span><i></i></div>
<div class="r" style="left:458.91px;top:209.35px;width:3.50px;height:6.40px;background:#D81B60;border-radius:1px;"></div>
<div class="r" style="left:461.41px;top:206.80px;width:27.00px;height:11.50px;background:#D81B60;border-radius:1.5px;box-shadow:inset 0 0 0 0.7px rgba(0,0,0,0.16);"></div>
<div class="t" style="left:468.11px;top:208.15px;color:rgba(255,235,240,0.9);">"</div>
<div class="r" style="left:472.16px;top:209.25px;width:6.00px;height:6.60px;background:#F8BBD0;border-radius:1.5px;"></div>
<div class="t" style="left:481.41px;top:208.15px;color:rgba(255,235,240,0.9);">"</div>
<div class="r" style="left:373.20px;top:221.70px;width:110.25px;height:12.20px;background:#388E3C;border-radius:3px;"></div>
<div class="r" style="left:378.70px;top:232.40px;width:8.00px;height:3.00px;background:#388E3C;border-radius:0 0 3px 3px;"></div>
<div class="t" style="left:377.00px;top:224.20px;color:rgba(255,252,240,0.93);">set</div>
<div class="f" style="left:390.70px;top:224.30px;width:44.41px;height:7px;line-height:5.80px;background:#CFEBD0;color:#000;">Label<b class="us"></b>Tags<i></i></div>
<div class="t" style="left:437.91px;top:224.20px;color:rgba(255,252,240,0.93);">.</div>
<div class="f" style="left:442.01px;top:224.30px;width:21.44px;height:7px;line-height:5.80px;background:#CFEBD0;color:#000;">Text<i></i></div>
<div class="t" style="left:467.95px;top:224.20px;color:rgba(255,252,240,0.93);">to</div>
<div class="r" style="left:480.45px;top:224.60px;width:3.50px;height:6.40px;background:#D81B60;border-radius:1px;"></div>
<div class="r" style="left:482.95px;top:222.05px;width:154.80px;height:11.50px;background:#D81B60;border-radius:1.5px;box-shadow:inset 0 0 0 0.7px rgba(0,0,0,0.16);"></div>
<div class="t" style="left:489.65px;top:223.40px;color:rgba(255,235,240,0.9);">"</div>
<div class="f" style="left:493.65px;top:224.30px;width:134.20px;height:7px;line-height:5.80px;background:#F8BBD0;color:#000;">Adding tags helps readers find your story!</div>
<div class="t" style="left:630.35px;top:223.40px;color:rgba(255,235,240,0.9);">"</div>
<div class="r" style="left:372.70px;top:240.30px;width:110.25px;height:12.20px;background:#388E3C;border-radius:3px;"></div>
<div class="r" style="left:378.20px;top:251.00px;width:8.00px;height:3.00px;background:#388E3C;border-radius:0 0 3px 3px;"></div>
<div class="t" style="left:376.50px;top:242.80px;color:rgba(255,252,240,0.93);">set</div>
<div class="f" style="left:390.20px;top:242.90px;width:44.41px;height:7px;line-height:5.80px;background:#CFEBD0;color:#000;">Label<b class="us"></b>Tags<i></i></div>
<div class="t" style="left:437.41px;top:242.80px;color:rgba(255,252,240,0.93);">.</div>
<div class="f" style="left:441.51px;top:242.90px;width:21.44px;height:7px;line-height:5.80px;background:#CFEBD0;color:#000;">Text<i></i></div>
<div class="t" style="left:467.45px;top:242.80px;color:rgba(255,252,240,0.93);">to</div>
<div class="r" style="left:479.95px;top:243.20px;width:3.50px;height:6.40px;background:#F4511E;border-radius:1px;"></div>
<div class="r" style="left:482.45px;top:240.65px;width:44.52px;height:11.50px;background:#F4511E;border-radius:1.5px;box-shadow:inset 0 0 0 0.7px rgba(0,0,0,0.16);"></div>
<div class="t" style="left:486.95px;top:242.80px;color:rgba(255,252,240,0.93);">get</div>
<div class="f" style="left:499.15px;top:242.90px;width:25.72px;height:7px;line-height:5.80px;background:#FFCCBC;color:#000;">result<i></i></div>
<div class="r" style="left:326.90px;top:298.60px;width:145.20px;height:23.90px;background:#FFA726;border-radius:3px 3px 1px 0;"></div>
<div class="t" style="left:331.90px;top:301.20px;color:rgba(255,248,228,0.95);">when</div>
<div class="f" style="left:352.40px;top:301.60px;width:70.81px;height:7px;line-height:5.80px;background:rgba(255,255,255,0.82);color:#000;">Image<b class="us"></b>Picker<b class="us"></b>cover<i></i></div>
<div class="t" style="left:426.01px;top:301.20px;color:rgba(255,248,228,0.95);">.After Picking</div>
<div class="f" style="left:335.90px;top:312.60px;width:32.63px;height:7.2px;background:#E6A07A;color:#4a2410;text-align:center;padding:0;line-height:7.2px">selection</div>
<div class="r" style="left:326.90px;top:322.00px;width:20.60px;height:37.70px;background:#FFA726;"></div>
<div class="r" style="left:326.90px;top:359.20px;width:145.20px;height:6.30px;background:#FFA726;border-radius:2.5px;"></div>
<div class="t" style="left:331.40px;top:324.40px;color:rgba(255,252,240,0.93);">do</div>
<div class="r" style="left:344.60px;top:323.00px;width:144.87px;height:12.20px;background:#388E3C;border-radius:3px;"></div>
<div class="r" style="left:350.10px;top:333.70px;width:8.00px;height:3.00px;background:#388E3C;border-radius:0 0 3px 3px;"></div>
<div class="t" style="left:348.40px;top:325.50px;color:rgba(255,252,240,0.93);">set</div>
<div class="f" style="left:362.10px;top:325.60px;width:72.41px;height:7px;line-height:5.80px;background:#CFEBD0;color:#000;">Image<b class="us"></b>Picker<b class="us"></b>cover<i></i></div>
<div class="t" style="left:437.31px;top:325.50px;color:rgba(255,252,240,0.93);">.</div>
<div class="f" style="left:441.41px;top:325.60px;width:28.06px;height:7px;line-height:5.80px;background:#CFEBD0;color:#000;">Image<i></i></div>
<div class="t" style="left:473.97px;top:325.50px;color:rgba(255,252,240,0.93);">to</div>
<div class="r" style="left:486.47px;top:325.90px;width:3.50px;height:6.40px;background:#8BC34A;border-radius:1px;"></div>
<div class="r" style="left:488.47px;top:323.35px;width:122.21px;height:11.50px;background:#8BC34A;border-radius:1.5px;box-shadow:inset 0 0 0 0.8px #73A83A;"></div>
<div class="f" style="left:491.97px;top:325.60px;width:72.41px;height:7px;line-height:5.80px;background:#D7EEBC;color:#000;">Image<b class="us"></b>Picker<b class="us"></b>cover<i></i></div>
<div class="t" style="left:566.58px;top:325.50px;color:rgba(255,252,240,0.93);">.</div>
<div class="f" style="left:570.68px;top:325.60px;width:37.40px;height:7px;line-height:5.80px;background:#D7EEBC;color:#000;">Selection<i></i></div>
<div class="r" style="left:344.60px;top:334.80px;width:124.80px;height:24.20px;background:#5E35B1;border-radius:2px;"></div>
<div class="r" style="left:350.00px;top:357.50px;width:6.00px;height:3.00px;background:#5E35B1;border-radius:1.5px;"></div>
<div class="t" style="left:349.00px;top:337.40px;color:rgba(255,252,240,0.93);">call</div>
<div class="f" style="left:364.30px;top:337.50px;width:46.70px;height:7.6px;line-height:6.40px;background:#D5C8EE;color:#000;">ImgBBHost1<i></i></div>
<div class="t" style="left:413.50px;top:337.40px;color:rgba(255,252,240,0.93);">.PrepareImage</div>
<div class="t" style="left:439.40px;top:349.20px;color:rgba(255,252,240,0.93);">source</div>
<div class="r" style="left:466.50px;top:350.30px;width:3.50px;height:6.40px;background:#8BC34A;border-radius:1px;"></div>
<div class="r" style="left:468.50px;top:348.20px;width:122.21px;height:10.60px;background:#8BC34A;border-radius:1.5px;box-shadow:inset 0 0 0 0.8px #73A83A;"></div>
<div class="f" style="left:472.00px;top:350.00px;width:72.41px;height:7px;line-height:5.80px;background:#D7EEBC;color:#000;">Image<b class="us"></b>Picker<b class="us"></b>cover<i></i></div>
<div class="t" style="left:546.61px;top:349.90px;color:rgba(255,252,240,0.93);">.</div>
<div class="f" style="left:550.71px;top:350.00px;width:37.40px;height:7px;line-height:5.80px;background:#D7EEBC;color:#000;">Selection<i></i></div>
<div class="r" style="left:327.00px;top:375.30px;width:130.40px;height:24.20px;background:#FFA726;border-radius:3px 3px 1px 0;"></div>
<div class="t" style="left:332.00px;top:377.90px;color:rgba(255,248,228,0.95);">when</div>
<div class="f" style="left:352.50px;top:378.30px;width:46.30px;height:7px;line-height:5.80px;background:rgba(255,255,255,0.82);color:#000;">ImgBBHost1<i></i></div>
<div class="t" style="left:401.60px;top:377.90px;color:rgba(255,248,228,0.95);">.ImagePrepared</div>
<div class="f" style="left:336.00px;top:389.30px;width:42.36px;height:7.2px;background:#E6A07A;color:#4a2410;text-align:center;padding:0;line-height:7.2px">internalPath</div>
<div class="r" style="left:327.00px;top:399.00px;width:20.60px;height:24.30px;background:#FFA726;"></div>
<div class="r" style="left:327.00px;top:422.80px;width:130.40px;height:6.30px;background:#FFA726;border-radius:2.5px;"></div>
<div class="t" style="left:331.50px;top:400.80px;color:rgba(255,252,240,0.93);">do</div>
<div class="r" style="left:344.60px;top:399.50px;width:124.40px;height:23.30px;background:#5E35B1;border-radius:2px;"></div>
<div class="r" style="left:350.00px;top:421.50px;width:6.00px;height:3.00px;background:#5E35B1;border-radius:1.5px;"></div>
<div class="t" style="left:349.00px;top:401.60px;color:rgba(255,252,240,0.93);">call</div>
<div class="f" style="left:364.30px;top:401.60px;width:46.70px;height:7.6px;line-height:6.40px;background:#D5C8EE;color:#000;">ImgBBHost1<i></i></div>
<div class="t" style="left:413.50px;top:401.60px;color:rgba(255,252,240,0.93);">.Upload Image</div>
<div class="t" style="left:424.60px;top:413.60px;color:rgba(255,252,240,0.93);">image Path</div>
<div class="r" style="left:465.50px;top:413.90px;width:3.50px;height:6.40px;background:#F4511E;border-radius:1px;"></div>
<div class="r" style="left:468.00px;top:411.20px;width:64.76px;height:11.80px;background:#F4511E;border-radius:1.5px;box-shadow:inset 0 0 0 0.7px rgba(0,0,0,0.16);"></div>
<div class="t" style="left:472.50px;top:413.50px;color:rgba(255,252,240,0.93);">get</div>
<div class="f" style="left:484.70px;top:413.60px;width:45.96px;height:7px;line-height:5.80px;background:#FFCCBC;color:#000;">internalPath<i></i></div>
<div class="r" style="left:327.00px;top:432.90px;width:132.00px;height:24.10px;background:#FFA726;border-radius:3px 3px 1px 0;"></div>
<div class="t" style="left:332.00px;top:435.50px;color:rgba(255,248,228,0.95);">when</div>
<div class="f" style="left:352.50px;top:435.90px;width:46.30px;height:7px;line-height:5.80px;background:rgba(255,255,255,0.82);color:#000;">ImgBBHost1<i></i></div>
<div class="t" style="left:401.60px;top:435.50px;color:rgba(255,248,228,0.95);">.ImageUploaded</div>
<div class="f" style="left:336.00px;top:446.90px;width:40.02px;height:7.2px;background:#E6A07A;color:#4a2410;text-align:center;padding:0;line-height:7.2px">image URL</div>
<div class="r" style="left:327.00px;top:456.50px;width:20.60px;height:61.00px;background:#FFA726;"></div>
<div class="r" style="left:327.00px;top:517.00px;width:132.00px;height:6.30px;background:#FFA726;border-radius:2.5px;"></div>
<div class="t" style="left:331.50px;top:458.40px;color:rgba(255,252,240,0.93);">do</div>
<div class="r" style="left:344.60px;top:457.00px;width:171.73px;height:12.30px;background:#388E3C;border-radius:3px;"></div>
<div class="r" style="left:350.10px;top:467.80px;width:8.00px;height:3.00px;background:#388E3C;border-radius:0 0 3px 3px;"></div>
<div class="t" style="left:348.40px;top:459.55px;color:rgba(255,252,240,0.93);">set</div>
<div class="f" style="left:362.10px;top:459.65px;width:73.59px;height:7px;line-height:5.80px;background:#CFEBD0;color:#000;">Firebase<b class="us"></b>Database1<i></i></div>
<div class="t" style="left:438.49px;top:459.55px;color:rgba(255,252,240,0.93);">.</div>
<div class="f" style="left:442.59px;top:459.65px;width:53.73px;height:7px;line-height:5.80px;background:#CFEBD0;color:#000;">Project Bucket<i></i></div>
<div class="t" style="left:500.83px;top:459.55px;color:rgba(255,252,240,0.93);">to</div>
<div class="r" style="left:513.33px;top:459.95px;width:3.50px;height:6.40px;background:#F4511E;border-radius:1px;"></div>
<div class="r" style="left:515.83px;top:457.00px;width:72.54px;height:12.30px;background:#F4511E;border-radius:1.5px;box-shadow:inset 0 0 0 0.7px rgba(0,0,0,0.16);"></div>
<div class="t" style="left:520.33px;top:459.55px;color:rgba(255,252,240,0.93);">get</div>
<div class="f" style="left:532.53px;top:459.65px;width:53.74px;height:7px;line-height:5.80px;background:#FFCCBC;color:#000;">global story<b class="us"></b>id<i></i></div>
<div class="r" style="left:344.60px;top:469.30px;width:139.70px;height:40.00px;background:#5E35B1;border-radius:2px;"></div>
<div class="t" style="left:349.00px;top:470.60px;color:rgba(255,252,240,0.93);">call</div>
<div class="f" style="left:364.30px;top:470.80px;width:72.39px;height:7.6px;line-height:6.40px;background:#D5C8EE;color:#000;">Firebase<b class="us"></b>Database1<i></i></div>
<div class="t" style="left:439.19px;top:470.60px;color:rgba(255,252,240,0.93);">.Store Value</div>
<div class="t" style="left:465.00px;top:482.40px;color:rgba(255,252,240,0.93);">tag</div>
<div class="t" style="left:432.00px;top:494.00px;color:rgba(255,252,240,0.93);">value To Store</div>
<div class="r" style="left:479.50px;top:483.10px;width:3.50px;height:6.40px;background:#D81B60;border-radius:1px;"></div>
<div class="r" style="left:482.00px;top:480.80px;width:44.27px;height:11.00px;background:#D81B60;border-radius:1.5px;box-shadow:inset 0 0 0 0.7px rgba(0,0,0,0.16);"></div>
<div class="t" style="left:488.70px;top:481.90px;color:rgba(255,235,240,0.9);">"</div>
<div class="f" style="left:492.70px;top:482.80px;width:23.67px;height:7px;line-height:5.80px;background:#F8BBD0;color:#000;">Cover</div>
<div class="t" style="left:518.87px;top:481.90px;color:rgba(255,235,240,0.9);">"</div>
<div class="r" style="left:481.00px;top:496.30px;width:3.50px;height:6.40px;background:#F4511E;border-radius:1px;"></div>
<div class="r" style="left:483.50px;top:493.75px;width:62.42px;height:11.50px;background:#F4511E;border-radius:1.5px;box-shadow:inset 0 0 0 0.7px rgba(0,0,0,0.16);"></div>
<div class="t" style="left:488.00px;top:495.90px;color:rgba(255,252,240,0.93);">get</div>
<div class="f" style="left:500.20px;top:496.00px;width:43.62px;height:7px;line-height:5.80px;background:#FFCCBC;color:#000;">image URL<i></i></div></div></body></html>
